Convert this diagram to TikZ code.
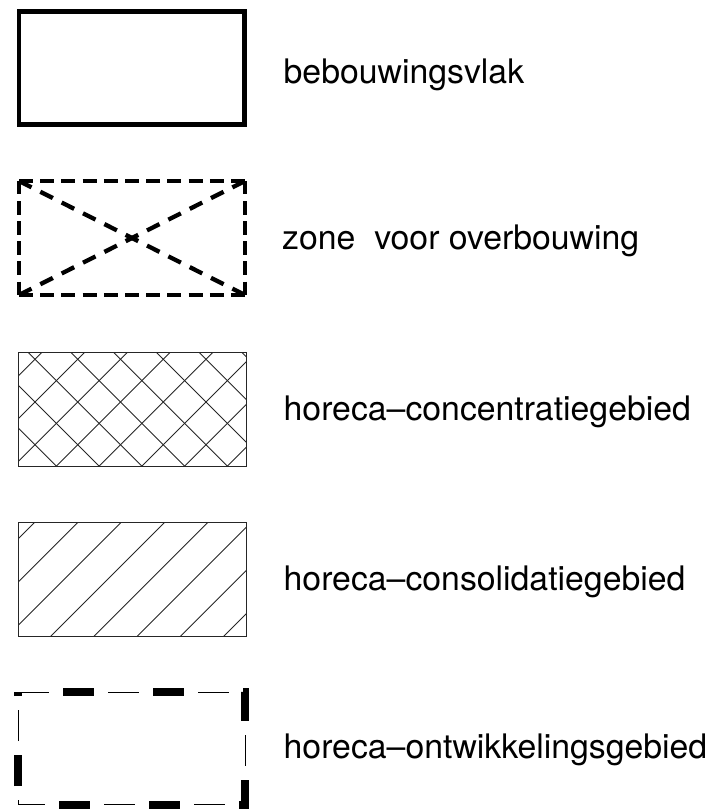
\documentclass[tikz,border=0pt]{standalone}
\usepackage{fontspec}
\setmainfont{TeX Gyre Heros}
\begin{document}
\begin{tikzpicture}[x=1pt,y=-1pt,
  lbl/.style={anchor=base west,inner sep=0pt,font=\fontsize{33.8}{40}\selectfont},
  thinline/.style={line width=0.9pt,draw=black!85},
  solidbox/.style={line width=4.7pt},
  dashbox/.style={line width=4.3pt},
]
\useasboundingbox (0,0) rectangle (711,810);
% 1 bebouwingsvlak
\draw[solidbox] (19,11.7) rectangle (244.8,124.2);
\node[lbl] (l1) at (283.5,83.3) {bebouwingsvlak};
% 2 zone voor overbouwing
\coordinate (tl) at (19,181);
\coordinate (tr) at (245,181);
\coordinate (bl) at (19,295);
\coordinate (br) at (245,295);
\draw[dashbox,dash pattern=on 14pt off 7.2pt] (tl) -- (tr);
\draw[dashbox,dash pattern=on 14pt off 7.2pt] (bl) -- (br);
\draw[dashbox,dash pattern=on 13.5pt off 6.6pt] (tl) -- (bl);
\draw[dashbox,dash pattern=on 13.5pt off 6.6pt] (tr) -- (br);
\draw[dashbox,dash pattern=on 14pt off 9.9pt] (tl) -- (br);
\draw[dashbox,dash pattern=on 14pt off 9.9pt] (bl) -- (tr);
\node[lbl] (l2) at (282,249.5) {zone~~voor overbouwing};
% 3 horeca-concentratiegebied
\begin{scope}
\clip (18,352) rectangle (246,466);
\foreach \n in {-1,...,6}{
  \pgfmathsetmacro{\c}{-367+42.75*\n}
  \draw[thinline] (\c+340,340) -- (\c+480,480);
  \pgfmathsetmacro{\d}{437+42.75*\n}
  \draw[thinline] (\d-340,340) -- (\d-480,480);
}
\end{scope}
\draw[thinline] (18,352) rectangle (246,466);
\node[lbl] (l3) at (283.5,420.3) {horeca–concentratiegebied};
% 4 horeca-consolidatiegebied
\begin{scope}
\clip (18,522) rectangle (246,636);
\foreach \n in {0,...,7}{
  \pgfmathsetmacro{\d}{557+43.3*\n}
  \draw[thinline] (\d-510,510) -- (\d-650,650);
}
\end{scope}
\draw[thinline] (18,522) rectangle (246,636);
\node[lbl] (l4) at (283.5,590.3) {horeca–consolidatiegebied};
% 5 horeca-ontwikkelingsgebied
\coordinate (p1) at (18.3,692);
\coordinate (p2) at (245.3,692);
\coordinate (p3) at (245.3,804.6);
\coordinate (p4) at (18.3,804.6);
\draw[line width=1pt,dash pattern=on 31pt off 59pt] (p1) -- (p2) -- (p3) -- (p4) -- cycle;
\draw[line width=8pt,miter limit=10,dash pattern=on 31pt off 59pt,dash phase=45pt] (p1) -- (p2) -- (p3) -- (p4) -- cycle;
\node[lbl] (l5) at (283.5,758.3) {horeca–ontwikkelingsgebied};
\end{tikzpicture}
\end{document}
